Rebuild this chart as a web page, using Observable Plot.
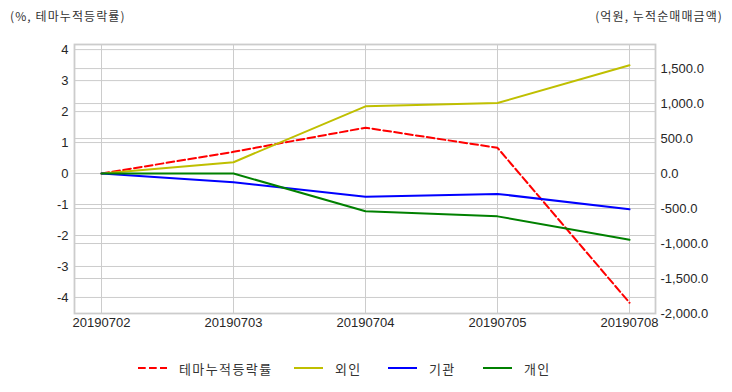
<!DOCTYPE html>
<html>
<head>
<meta charset="utf-8">
<script src="https://cdn.jsdelivr.net/npm/d3@7"></script>
<script src="https://cdn.jsdelivr.net/npm/@observablehq/plot@0.6"></script>
<style>
  body { margin: 0; background: #fff; }
  #wrap { position: relative; width: 732px; height: 392px; background: #fff; overflow: hidden; }
  #chart { position: absolute; left: 0; top: 0; }
  .ttl { position: absolute; top: 8px; font-family: "Noto Sans CJK KR", "Liberation Sans", sans-serif; font-size: 12px; line-height: 16px; color: #333; white-space: nowrap; letter-spacing: 1.1px; }
  .leg { position: absolute; top: 360px; height: 16px; display: flex; align-items: center; font-family: "Noto Sans CJK KR", "Liberation Sans", sans-serif; font-size: 13px; color: #333; white-space: nowrap; letter-spacing: 1.4px; }
  .leg svg { margin-right: 12px; }
</style>
</head>
<body>
<div id="wrap">
  <div class="ttl" style="left:10px">(%, 테마누적등락률)</div>
  <div class="ttl" style="right:9px">(억원, 누적순매매금액)</div>
  <div id="chart"></div>
  <div id="legend"></div>
</div>
<script>
// ---- data ----
const dates = ["20190702", "20190703", "20190704", "20190705", "20190708"];
const seriesNames = ["테마누적등락률", "외인", "기관", "개인"];
const seriesColors = ["#ff0000", "#bfbf00", "#0000ff", "#008000"];
const themeRate = [0, 0.70, 1.48, 0.83, -4.17];       // left axis (%)
const foreign = [0, 162, 960, 1007, 1547];            // right axis (억원)
const institution = [0, -125, -330, -291, -511];
const individual = [0, 0, -540, -612, -946];
const leftTicks = [-4, -3, -2, -1, 0, 1, 2, 3, 4];
const rightTicks = [-2000, -1500, -1000, -500, 0, 500, 1000, 1500];
const rightMax = 1844;
const rightMin = -2000;

// right-axis value per left-axis unit
const K = 442.7;

const rows = [];
dates.forEach((d, i) => {
  rows.push({series: seriesNames[0], date: d, value: themeRate[i]});
  rows.push({series: seriesNames[1], date: d, value: foreign[i] / K});
  rows.push({series: seriesNames[2], date: d, value: institution[i] / K});
  rows.push({series: seriesNames[3], date: d, value: individual[i] / K});
});

const fmtLeft = d => (d < 0 ? "-" + Math.abs(d) : String(d));
const fmtRight = d => {
  const v = Math.round(d * K / 100) * 100;
  const s = Math.abs(v).toLocaleString("en-US", {minimumFractionDigits: 1, maximumFractionDigits: 1});
  return (v < 0 ? "-" : "") + s;
};

const grid = {stroke: "#cccccc", strokeOpacity: 1, strokeWidth: 1};
const chart = Plot.plot({
  width: 732,
  height: 340,
  marginTop: 44,
  marginRight: 77,
  marginBottom: 27,
  marginLeft: 74,
  style: {fontFamily: "'Liberation Sans', 'Noto Sans CJK KR', sans-serif", fontSize: "13px", color: "#262626", background: "transparent"},
  x: {type: "point", domain: dates, padding: 0.2},
  y: {domain: [rightMin / K, rightMax / K]},
  color: {domain: seriesNames, range: seriesColors},
  marks: [
    Plot.gridX(dates, grid),
    Plot.gridY(leftTicks, grid),
    Plot.gridY(rightTicks.map(v => v / K), grid),
    Plot.frame({stroke: "#cccccc", strokeWidth: 1.8}),
    Plot.axisX(dates, {tickSize: 0, tickPadding: 4, label: null, fill: "#262626"}),
    Plot.axisY(leftTicks, {anchor: "left", tickSize: 0, tickPadding: 6, label: null, tickFormat: fmtLeft, fill: "#262626"}),
    Plot.axisY(rightTicks.map(v => v / K), {anchor: "right", tickSize: 0, tickPadding: 5, label: null, tickFormat: fmtRight, fill: "#262626"}),
    Plot.line(rows.filter(r => r.series === seriesNames[0]), {x: "date", y: "value", stroke: "series", strokeWidth: 2, strokeDasharray: "7.7,3.3"}),
    Plot.line(rows.filter(r => r.series !== seriesNames[0]), {x: "date", y: "value", z: "series", stroke: "series", strokeWidth: 2})
  ]
});
document.getElementById("chart").appendChild(chart);

// ---- legend ----
const legendLeft = [138, 294, 388, 483];
const legend = document.getElementById("legend");
seriesNames.forEach((name, i) => {
  const item = document.createElement("div");
  item.className = "leg";
  item.style.left = legendLeft[i] + "px";
  const dash = i === 0 ? ' stroke-dasharray="7.7,3.3"' : "";
  item.innerHTML = `<svg width="29" height="16"><line x1="0" x2="29" y1="8" y2="8" stroke="${seriesColors[i]}" stroke-width="2"${dash}/></svg><span>${name}</span>`;
  legend.appendChild(item);
});
</script>
</body>
</html>
